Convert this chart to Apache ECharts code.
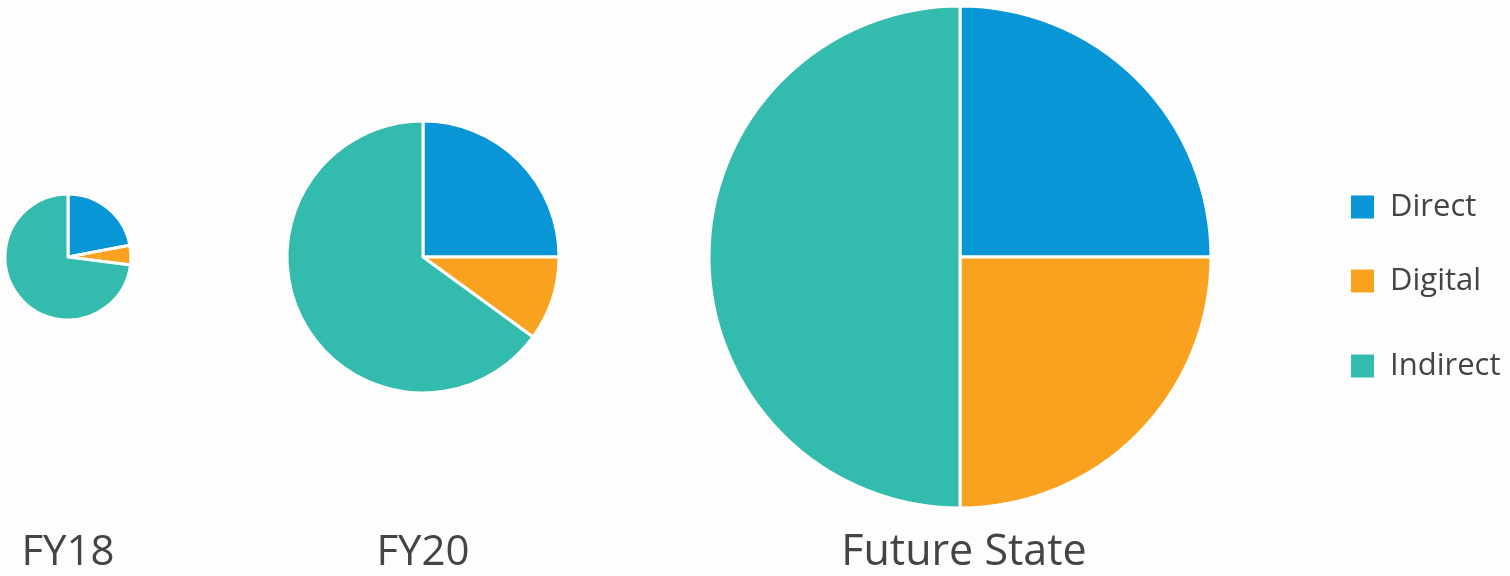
<!DOCTYPE html>
<html>
<head>
<meta charset="utf-8">
<style>
  html, body { margin: 0; padding: 0; background: #fdfdfd; }
  #chart { width: 1510px; height: 576px; }
</style>
<script src="https://cdn.jsdelivr.net/npm/echarts@6/dist/echarts.min.js"></script>
</head>
<body>
<div id="chart"></div>
<script>
// Channel mix shares (%) per period
const channels = ['Direct', 'Digital', 'Indirect'];
const periods = ['FY18', 'FY20', 'Future State'];
const fy18 = [22, 5, 73];
const fy20 = [25, 10, 65];
const futureState = [25, 25, 50];
const colors = ['#0896d6', '#f9a21f', '#33bbad'];

const values = [fy18, fy20, futureState];
// pie layout: centers and radii in px
const centers = [[68, 257], [423, 257], [960, 257]];
const radii = [63, 136, 251];
const labelY = 553;
const legendCenters = [204, 278, 363];

const fontFamily = '"Open Sans", "Noto Sans", sans-serif';
const textColor = '#444444';

const chart = echarts.init(document.getElementById('chart'), null, { renderer: 'canvas' });

const series = values.map((vals, i) => ({
  name: periods[i],
  type: 'pie',
  center: centers[i],
  radius: [0, radii[i]],
  startAngle: 90,
  clockwise: true,
  label: { show: false },
  labelLine: { show: false },
  emphasis: { disabled: true },
  itemStyle: { borderColor: '#ffffff', borderWidth: 3 },
  data: channels.map((c, j) => ({ name: c, value: vals[j], itemStyle: { color: colors[j] } }))
}));

// one legend block per channel so each row sits at its own height
const legends = channels.map((c, j) => ({
  data: [c],
  left: 1344,
  top: legendCenters[j] - 12.5 - 5,
  itemWidth: 25,
  itemHeight: 25,
  itemGap: 0,
  icon: 'rect',
  selectedMode: false,
  textStyle: {
    fontFamily: fontFamily,
    fontSize: 31,
    color: textColor,
    lineHeight: 25,
    padding: [0, 0, 0, 10]
  }
}));

const titles = periods.map((p, i) => ({
  type: 'text',
  x: centers[i][0] + (i === 2 ? 4 : 0),
  y: labelY,
  style: {
    text: p,
    fontFamily: fontFamily,
    fontSize: i === 2 ? 43 : 42,
    fill: textColor,
    textAlign: 'center',
    textVerticalAlign: 'middle'
  }
}));

chart.setOption({
  backgroundColor: '#fdfdfd',
  animation: false,
  color: colors,
  legend: legends,
  series: series,
  graphic: titles
});
</script>
</body>
</html>
